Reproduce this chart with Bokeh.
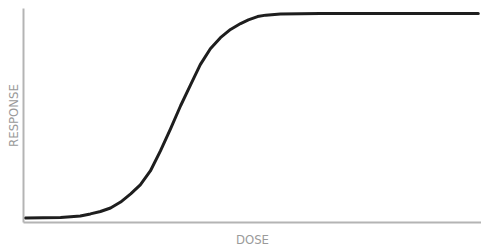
from bokeh.plotting import figure
from bokeh.models import FixedTicker, Range1d
from bokeh.embed import file_html
from bokeh.resources import INLINE

# Dose (arbitrary units 0-100) and response (% of max)
dose = [0.4, 8.1, 10.3, 12.4, 14.6, 16.8, 19.0, 21.2, 23.4, 25.5, 27.7, 29.9,
        32.1, 34.3, 36.5, 38.6, 40.8, 43.0, 45.2, 47.4, 49.1, 51.1, 52.9,
        56.1, 64.8, 82.3, 99.3]
response = [0.0, 0.25, 0.6, 1.0, 2.0, 3.2, 4.9, 7.8, 11.8, 16.2, 23.0, 32.8,
            43.6, 54.9, 65.2, 75.0, 82.8, 88.2, 92.2, 95.1, 96.9, 98.5, 99.2,
            99.8, 100.0, 100.0, 100.0]

x_label = "DOSE"
y_label = "RESPONSE"

FONT = "'DejaVu Sans Condensed', 'DejaVu Sans', sans-serif"

p = figure(width=481, height=250, output_backend="svg", toolbar_location=None,
           x_range=Range1d(0, 100), y_range=Range1d(-2.2, 102.45),
           min_border_left=23, min_border_right=0, min_border_top=8,
           min_border_bottom=28)
p.outline_line_color = None
p.grid.visible = False
p.background_fill_color = "white"
p.border_fill_color = "white"

p.line(dose, response, line_color="#1e1e1e", line_width=3, line_join="round",
       line_cap="round")

for ax in (p.xaxis[0], p.yaxis[0]):
    ax.ticker = FixedTicker(ticks=[])
    ax.major_tick_line_color = None
    ax.minor_tick_line_color = None
    ax.major_label_text_font_size = "0px"
    ax.major_label_standoff = 0
    ax.axis_line_color = "#b4b4b4"
    ax.axis_line_width = 2
    ax.axis_label_text_font = FONT
    ax.axis_label_text_font_size = "13px"
    ax.axis_label_text_font_style = "normal"
    ax.axis_label_text_color = "#9a9a9a"

p.xaxis.axis_label = x_label
p.yaxis.axis_label = y_label
p.xaxis.axis_label_standoff = 9
p.yaxis.axis_label_standoff = 3

open("out.html", "w").write(file_html(p, INLINE))
